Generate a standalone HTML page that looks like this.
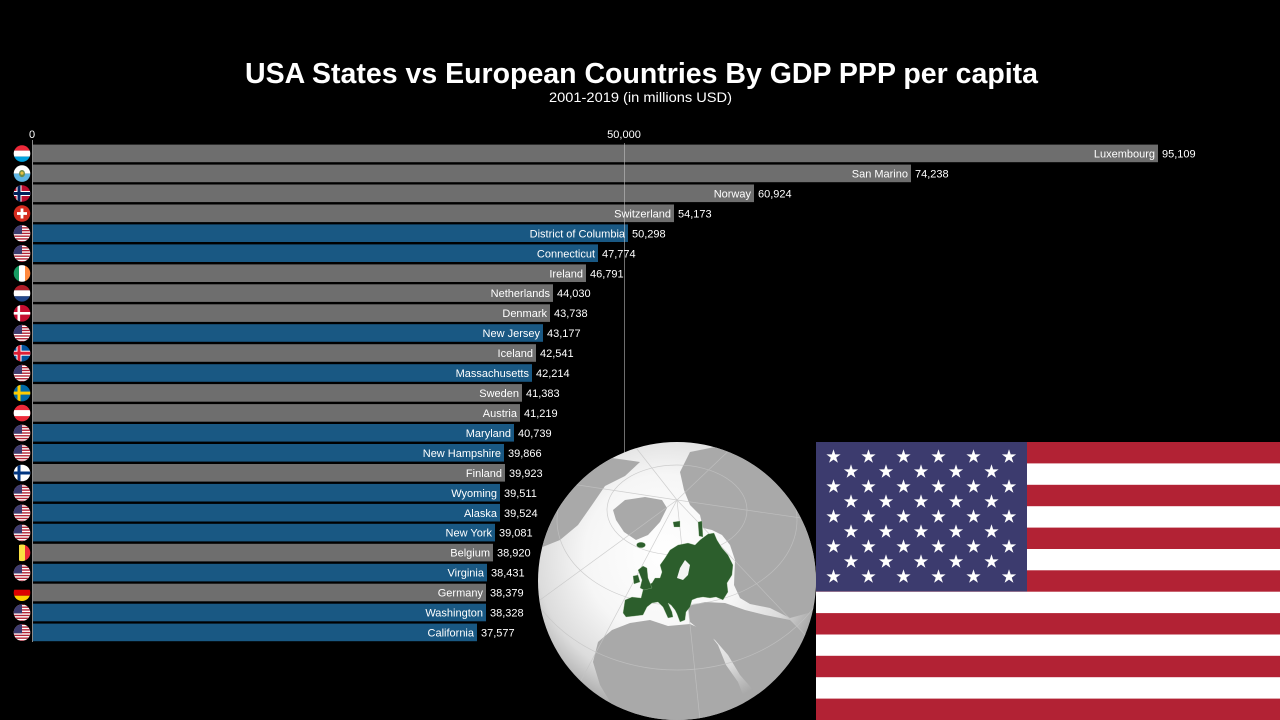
<!DOCTYPE html>
<html><head><meta charset="utf-8"><style>
html,body{margin:0;padding:0;background:#000;width:1280px;height:720px;overflow:hidden}
svg{display:block}
text{font-family:"Liberation Sans",sans-serif;fill:#fff}
</style></head><body>
<svg width="1280" height="720" viewBox="0 0 1280 720" xmlns="http://www.w3.org/2000/svg">
<defs>
<clipPath id="fc"><circle cx="0" cy="0" r="8.3"/></clipPath>
<clipPath id="gc"><circle cx="677" cy="581" r="139"/></clipPath>
<radialGradient id="gg" cx="665" cy="555" r="160" gradientUnits="userSpaceOnUse">
<stop offset="0" stop-color="#ffffff"/><stop offset="0.5" stop-color="#f6f6f6"/><stop offset="0.8" stop-color="#dcdcdc"/><stop offset="1" stop-color="#a9a9a9"/>
</radialGradient>
<radialGradient id="gloss" cx="-3" cy="-4" r="12" gradientUnits="userSpaceOnUse">
<stop offset="0" stop-color="#fff" stop-opacity="0.25"/><stop offset="1" stop-color="#000" stop-opacity="0.15"/>
</radialGradient>
<g id="f-us" clip-path="url(#fc)">
<rect x="-9" y="-9" width="18" height="18" fill="#fff"/>
<rect x="-9" y="-9" width="18" height="1.385" fill="#b22234"/>
<rect x="-9" y="-6.23" width="18" height="1.385" fill="#b22234"/>
<rect x="-9" y="-3.46" width="18" height="1.385" fill="#b22234"/>
<rect x="-9" y="-0.69" width="18" height="1.385" fill="#b22234"/>
<rect x="-9" y="2.08" width="18" height="1.385" fill="#b22234"/>
<rect x="-9" y="4.85" width="18" height="1.385" fill="#b22234"/>
<rect x="-9" y="7.62" width="18" height="1.385" fill="#b22234"/>
<rect x="-9" y="-9" width="9" height="9.7" fill="#3c3b6e"/>
</g>
<g id="f-lu" clip-path="url(#fc)"><rect x="-9" y="-9" width="18" height="6" fill="#ed2939"/><rect x="-9" y="-3" width="18" height="6" fill="#fff"/><rect x="-9" y="3" width="18" height="6" fill="#00a1de"/></g>
<g id="f-sm" clip-path="url(#fc)"><rect x="-9" y="-9" width="18" height="9" fill="#fff"/><rect x="-9" y="0" width="18" height="9" fill="#5eb6e4"/><ellipse cx="0" cy="0" rx="3" ry="3.6" fill="#6a8a4a"/><circle cx="0" cy="-0.5" r="1.6" fill="#e8c040"/></g>
<g id="f-no" clip-path="url(#fc)"><rect x="-9" y="-9" width="18" height="18" fill="#ba0c2f"/><rect x="-5.5" y="-9" width="5" height="18" fill="#fff"/><rect x="-9" y="-2.5" width="18" height="5" fill="#fff"/><rect x="-4.5" y="-9" width="3" height="18" fill="#00205b"/><rect x="-9" y="-1.5" width="18" height="3" fill="#00205b"/></g>
<g id="f-ch" clip-path="url(#fc)"><rect x="-9" y="-9" width="18" height="18" fill="#d52b1e"/><rect x="-1.4" y="-5" width="2.8" height="10" fill="#fff"/><rect x="-5" y="-1.4" width="10" height="2.8" fill="#fff"/></g>
<g id="f-ie" clip-path="url(#fc)"><rect x="-9" y="-9" width="6" height="18" fill="#169b62"/><rect x="-3" y="-9" width="6" height="18" fill="#fff"/><rect x="3" y="-9" width="6" height="18" fill="#ff883e"/></g>
<g id="f-nl" clip-path="url(#fc)"><rect x="-9" y="-9" width="18" height="6" fill="#ae1c28"/><rect x="-9" y="-3" width="18" height="6" fill="#fff"/><rect x="-9" y="3" width="18" height="6" fill="#21468b"/></g>
<g id="f-dk" clip-path="url(#fc)"><rect x="-9" y="-9" width="18" height="18" fill="#c60c30"/><rect x="-4.5" y="-9" width="2.6" height="18" fill="#fff"/><rect x="-9" y="-1.3" width="18" height="2.6" fill="#fff"/></g>
<g id="f-is" clip-path="url(#fc)"><rect x="-9" y="-9" width="18" height="18" fill="#02529c"/><rect x="-5.5" y="-9" width="5" height="18" fill="#fff"/><rect x="-9" y="-2.5" width="18" height="5" fill="#fff"/><rect x="-4.5" y="-9" width="3" height="18" fill="#dc1e35"/><rect x="-9" y="-1.5" width="18" height="3" fill="#dc1e35"/></g>
<g id="f-se" clip-path="url(#fc)"><rect x="-9" y="-9" width="18" height="18" fill="#006aa7"/><rect x="-4.5" y="-9" width="3" height="18" fill="#fecc00"/><rect x="-9" y="-1.5" width="18" height="3" fill="#fecc00"/></g>
<g id="f-at" clip-path="url(#fc)"><rect x="-9" y="-9" width="18" height="18" fill="#ed2939"/><rect x="-9" y="-3" width="18" height="6" fill="#fff"/></g>
<g id="f-fi" clip-path="url(#fc)"><rect x="-9" y="-9" width="18" height="18" fill="#fff"/><rect x="-4.5" y="-9" width="3" height="18" fill="#003580"/><rect x="-9" y="-1.5" width="18" height="3" fill="#003580"/></g>
<g id="f-be" clip-path="url(#fc)"><rect x="-9" y="-9" width="6" height="18" fill="#000"/><rect x="-3" y="-9" width="6" height="18" fill="#fae042"/><rect x="3" y="-9" width="6" height="18" fill="#ed2939"/></g>
<g id="f-de" clip-path="url(#fc)"><rect x="-9" y="-9" width="18" height="6" fill="#000"/><rect x="-9" y="-3" width="18" height="6" fill="#dd0000"/><rect x="-9" y="3" width="18" height="6" fill="#ffce00"/></g>
<path id="star" d="M0,-7.5 L1.69,-2.32 L7.13,-2.32 L2.73,0.89 L4.41,6.07 L0,2.87 L-4.41,6.07 L-2.73,0.89 L-7.13,-2.32 L-1.69,-2.32 Z" fill="#fff"/>
</defs>

<rect width="1280" height="720" fill="#000"/>

<!-- Title -->
<text x="641.5" y="83" font-size="29" font-weight="bold" text-anchor="middle" textLength="793" lengthAdjust="spacingAndGlyphs">USA States vs European Countries By GDP PPP per capita</text>
<text x="640.5" y="102" font-size="13.5" text-anchor="middle" textLength="183" lengthAdjust="spacingAndGlyphs">2001-2019 (in millions USD)</text>

<!-- ticks -->
<text x="32" y="138" font-size="11" text-anchor="middle">0</text>
<text x="624" y="138" font-size="11" text-anchor="middle">50,000</text>

<!-- bars -->
<g font-size="11">
<rect x="33" y="144.6" width="1125" height="17.6" fill="#6e6e6e"/>
<rect x="33" y="164.6" width="878" height="17.6" fill="#6e6e6e"/>
<rect x="33" y="184.5" width="721" height="17.6" fill="#6e6e6e"/>
<rect x="33" y="204.5" width="641" height="17.6" fill="#6e6e6e"/>
<rect x="33" y="224.4" width="595" height="17.6" fill="#195883"/>
<rect x="33" y="244.4" width="565" height="17.6" fill="#195883"/>
<rect x="33" y="264.4" width="553" height="17.6" fill="#6e6e6e"/>
<rect x="33" y="284.3" width="520" height="17.6" fill="#6e6e6e"/>
<rect x="33" y="304.3" width="517" height="17.6" fill="#6e6e6e"/>
<rect x="33" y="324.2" width="510" height="17.6" fill="#195883"/>
<rect x="33" y="344.2" width="503" height="17.6" fill="#6e6e6e"/>
<rect x="33" y="364.2" width="499" height="17.6" fill="#195883"/>
<rect x="33" y="384.1" width="489" height="17.6" fill="#6e6e6e"/>
<rect x="33" y="404.1" width="487" height="17.6" fill="#6e6e6e"/>
<rect x="33" y="424.0" width="481" height="17.6" fill="#195883"/>
<rect x="33" y="444.0" width="471" height="17.6" fill="#195883"/>
<rect x="33" y="464.0" width="472" height="17.6" fill="#6e6e6e"/>
<rect x="33" y="483.9" width="467" height="17.6" fill="#195883"/>
<rect x="33" y="503.9" width="467" height="17.6" fill="#195883"/>
<rect x="33" y="523.8" width="462" height="17.6" fill="#195883"/>
<rect x="33" y="543.8" width="460" height="17.6" fill="#6e6e6e"/>
<rect x="33" y="563.8" width="454" height="17.6" fill="#195883"/>
<rect x="33" y="583.7" width="453" height="17.6" fill="#6e6e6e"/>
<rect x="33" y="603.7" width="453" height="17.6" fill="#195883"/>
<rect x="33" y="623.6" width="444" height="17.6" fill="#195883"/>

<!-- gridline -->
<line x1="624.5" y1="143" x2="624.5" y2="642" stroke="#c8c8c8" stroke-opacity="0.55" stroke-width="1"/>
<line x1="32.5" y1="140" x2="32.5" y2="642" stroke="#8a8a8a" stroke-width="1"/>

<g text-anchor="end">
<text x="1155" y="157.5">Luxembourg</text>
<text x="908" y="177.5">San Marino</text>
<text x="751" y="197.4">Norway</text>
<text x="671" y="217.4">Switzerland</text>
<text x="625" y="237.3">District of Columbia</text>
<text x="595" y="257.3">Connecticut</text>
<text x="583" y="277.3">Ireland</text>
<text x="550" y="297.2">Netherlands</text>
<text x="547" y="317.2">Denmark</text>
<text x="540" y="337.1">New Jersey</text>
<text x="533" y="357.1">Iceland</text>
<text x="529" y="377.1">Massachusetts</text>
<text x="519" y="397.0">Sweden</text>
<text x="517" y="417.0">Austria</text>
<text x="511" y="436.9">Maryland</text>
<text x="501" y="456.9">New Hampshire</text>
<text x="502" y="476.9">Finland</text>
<text x="497" y="496.8">Wyoming</text>
<text x="497" y="516.8">Alaska</text>
<text x="492" y="536.7">New York</text>
<text x="490" y="556.7">Belgium</text>
<text x="484" y="576.7">Virginia</text>
<text x="483" y="596.6">Germany</text>
<text x="483" y="616.6">Washington</text>
<text x="474" y="636.5">California</text>
</g>
<g>
<text x="1162" y="157.5">95,109</text>
<text x="915" y="177.5">74,238</text>
<text x="758" y="197.4">60,924</text>
<text x="678" y="217.4">54,173</text>
<text x="632" y="237.3">50,298</text>
<text x="602" y="257.3">47,774</text>
<text x="590" y="277.3">46,791</text>
<text x="557" y="297.2">44,030</text>
<text x="554" y="317.2">43,738</text>
<text x="547" y="337.1">43,177</text>
<text x="540" y="357.1">42,541</text>
<text x="536" y="377.1">42,214</text>
<text x="526" y="397.0">41,383</text>
<text x="524" y="417.0">41,219</text>
<text x="518" y="436.9">40,739</text>
<text x="508" y="456.9">39,866</text>
<text x="509" y="476.9">39,923</text>
<text x="504" y="496.8">39,511</text>
<text x="504" y="516.8">39,524</text>
<text x="499" y="536.7">39,081</text>
<text x="497" y="556.7">38,920</text>
<text x="491" y="576.7">38,431</text>
<text x="490" y="596.6">38,379</text>
<text x="490" y="616.6">38,328</text>
<text x="481" y="636.5">37,577</text>
</g>
</g>

<!-- flags -->
<g>
<use href="#f-lu" transform="translate(22,153.6)"/>
<use href="#f-sm" transform="translate(22,173.6)"/>
<use href="#f-no" transform="translate(22,193.5)"/>
<use href="#f-ch" transform="translate(22,213.5)"/>
<use href="#f-us" transform="translate(22,233.4)"/>
<use href="#f-us" transform="translate(22,253.4)"/>
<use href="#f-ie" transform="translate(22,273.4)"/>
<use href="#f-nl" transform="translate(22,293.3)"/>
<use href="#f-dk" transform="translate(22,313.3)"/>
<use href="#f-us" transform="translate(22,333.2)"/>
<use href="#f-is" transform="translate(22,353.2)"/>
<use href="#f-us" transform="translate(22,373.2)"/>
<use href="#f-se" transform="translate(22,393.1)"/>
<use href="#f-at" transform="translate(22,413.1)"/>
<use href="#f-us" transform="translate(22,433.0)"/>
<use href="#f-us" transform="translate(22,453.0)"/>
<use href="#f-fi" transform="translate(22,473.0)"/>
<use href="#f-us" transform="translate(22,492.9)"/>
<use href="#f-us" transform="translate(22,512.9)"/>
<use href="#f-us" transform="translate(22,532.8)"/>
<use href="#f-be" transform="translate(22,552.8)"/>
<use href="#f-us" transform="translate(22,572.8)"/>
<use href="#f-de" transform="translate(22,592.7)"/>
<use href="#f-us" transform="translate(22,612.7)"/>
<use href="#f-us" transform="translate(22,632.6)"/>
</g>

<!-- globe -->
<circle cx="677" cy="581" r="139" fill="url(#gg)"/>
<g clip-path="url(#gc)">
<g fill="#a9a9a9">
<!-- arctic canada -->
<polygon points="538,530 550,505 565,485 585,468 612,458 640,462 625,476 605,486 592,505 578,525 560,540 540,548"/>
<!-- greenland -->
<polygon points="613,510 625,500 645,497 662,500 667,508 660,522 648,535 636,540 624,532 616,520"/>
<!-- russia / asia -->
<polygon points="690,452 720,446 760,452 795,470 818,500 820,560 812,612 790,618 770,608 750,604 740,598 734,585 735,560 730,545 722,535 712,530 703,528 700,515 690,505 684,490 680,472"/>
<!-- africa -->
<polygon points="598,642 612,630 630,623 650,620 668,626 690,624 708,632 718,645 726,665 738,682 745,700 740,725 630,725 612,705 600,685 593,662"/>
<!-- middle east / arabia / turkey -->
<polygon points="688,606 705,602 725,603 745,610 765,615 790,620 810,640 812,680 790,690 770,700 755,692 740,675 728,655 715,640 700,630 690,622"/>
</g>
<!-- graticule -->
<g fill="none" stroke="#c4c4c4" stroke-width="0.7" opacity="0.8">
<line x1="677" y1="500" x2="560" y2="720"/>
<line x1="677" y1="500" x2="540" y2="600"/>
<line x1="677" y1="500" x2="545" y2="480"/>
<line x1="677" y1="500" x2="630" y2="440"/>
<line x1="677" y1="500" x2="740" y2="440"/>
<line x1="677" y1="500" x2="815" y2="520"/>
<line x1="677" y1="500" x2="810" y2="640"/>
<line x1="677" y1="500" x2="700" y2="720"/>
<ellipse cx="677" cy="510" rx="70" ry="45"/>
<ellipse cx="677" cy="520" rx="120" ry="85"/>
<ellipse cx="677" cy="540" rx="160" ry="130"/>
</g>
</g>
<!-- europe -->
<g fill="#2c5e2c" stroke="#a8c8a0" stroke-width="0.3">
<polygon points="623,613 625,600 632,597 641,598 643,590 647,585 652,583 655,578 660,578 662,572 660,565 665,558 670,550 678,545 688,543 695,545 700,540 708,534 714,533 717,540 722,548 728,555 733,565 732,575 727,583 728,592 723,600 716,597 710,598 703,597 697,598 692,600 690,607 686,612 685,620 680,622 677,614 675,610 671,605 668,603 672,612 673,617 668,618 663,607 658,602 652,603 647,607 643,615 635,616 626,617"/>
<polygon points="638,570 643,566 647,568 648,578 652,588 644,590 640,588 642,580"/>
<polygon points="633,576 638,575 640,582 634,584"/>
<ellipse cx="641" cy="545" rx="4.5" ry="2.8"/>
<polygon points="673,522 680,521 680,527 674,527"/>
<polygon points="698,522 702,521 703,537 699,536"/>
</g>
<polygon points="677,578 680,568 685,560 690,565 688,575 683,580" fill="#f4f4f4"/>

<!-- US flag -->
<g>
<rect x="816" y="442" width="464" height="278" fill="#fff"/>
<rect x="816" y="442" width="464" height="21.4" fill="#b22234"/>
<rect x="816" y="484.8" width="464" height="21.4" fill="#b22234"/>
<rect x="816" y="527.6" width="464" height="21.4" fill="#b22234"/>
<rect x="816" y="570.3" width="464" height="21.4" fill="#b22234"/>
<rect x="816" y="613.1" width="464" height="21.4" fill="#b22234"/>
<rect x="816" y="655.8" width="464" height="21.4" fill="#b22234"/>
<rect x="816" y="698.6" width="464" height="21.4" fill="#b22234"/>
<rect x="816" y="442" width="211" height="149.5" fill="#3c3b6e"/>
<g>
<use href="#star" x="833.5" y="456.7"/><use href="#star" x="868.5" y="456.7"/><use href="#star" x="903.5" y="456.7"/><use href="#star" x="938.5" y="456.7"/><use href="#star" x="973.5" y="456.7"/><use href="#star" x="1009" y="456.7"/>
<use href="#star" x="851" y="471.7"/><use href="#star" x="886" y="471.7"/><use href="#star" x="921" y="471.7"/><use href="#star" x="956" y="471.7"/><use href="#star" x="991.5" y="471.7"/>
<use href="#star" x="833.5" y="486.7"/><use href="#star" x="868.5" y="486.7"/><use href="#star" x="903.5" y="486.7"/><use href="#star" x="938.5" y="486.7"/><use href="#star" x="973.5" y="486.7"/><use href="#star" x="1009" y="486.7"/>
<use href="#star" x="851" y="501.7"/><use href="#star" x="886" y="501.7"/><use href="#star" x="921" y="501.7"/><use href="#star" x="956" y="501.7"/><use href="#star" x="991.5" y="501.7"/>
<use href="#star" x="833.5" y="516.7"/><use href="#star" x="868.5" y="516.7"/><use href="#star" x="903.5" y="516.7"/><use href="#star" x="938.5" y="516.7"/><use href="#star" x="973.5" y="516.7"/><use href="#star" x="1009" y="516.7"/>
<use href="#star" x="851" y="531.7"/><use href="#star" x="886" y="531.7"/><use href="#star" x="921" y="531.7"/><use href="#star" x="956" y="531.7"/><use href="#star" x="991.5" y="531.7"/>
<use href="#star" x="833.5" y="546.7"/><use href="#star" x="868.5" y="546.7"/><use href="#star" x="903.5" y="546.7"/><use href="#star" x="938.5" y="546.7"/><use href="#star" x="973.5" y="546.7"/><use href="#star" x="1009" y="546.7"/>
<use href="#star" x="851" y="561.7"/><use href="#star" x="886" y="561.7"/><use href="#star" x="921" y="561.7"/><use href="#star" x="956" y="561.7"/><use href="#star" x="991.5" y="561.7"/>
<use href="#star" x="833.5" y="576.7"/><use href="#star" x="868.5" y="576.7"/><use href="#star" x="903.5" y="576.7"/><use href="#star" x="938.5" y="576.7"/><use href="#star" x="973.5" y="576.7"/><use href="#star" x="1009" y="576.7"/>
</g>
</g>
</svg>
</body></html>
